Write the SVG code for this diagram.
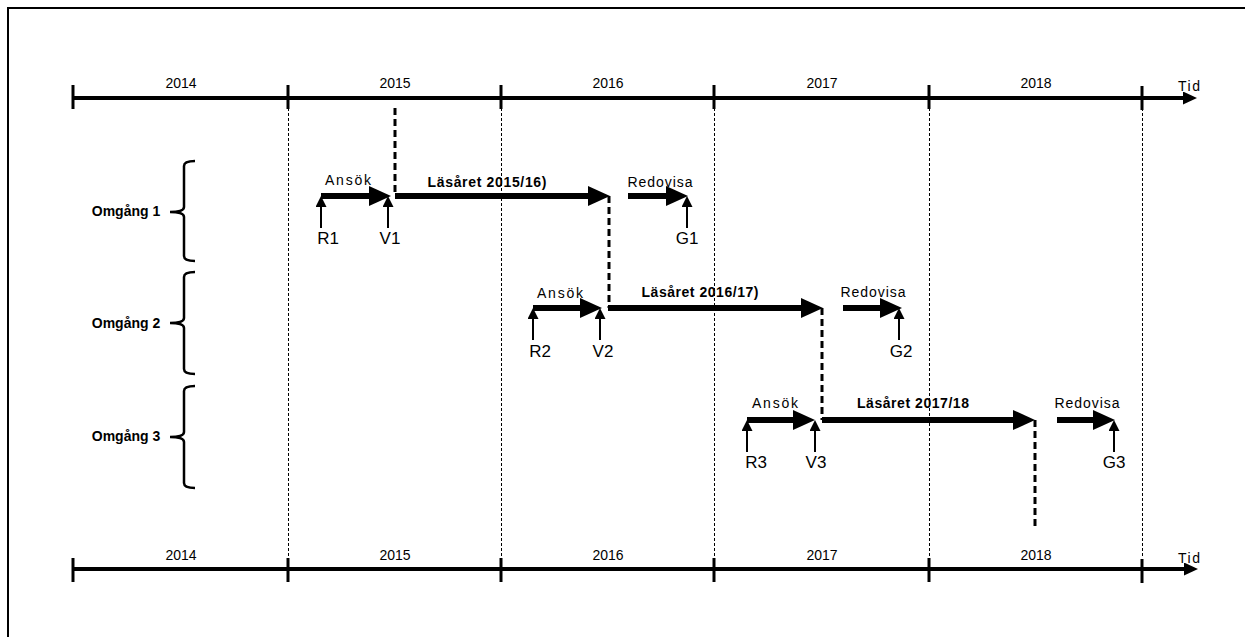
<svg xmlns="http://www.w3.org/2000/svg" width="1245" height="637" viewBox="0 0 1245 637">
<style>
text{font-family:"Liberation Sans",Arial,sans-serif;fill:#000}
.yr{font-size:14px;text-anchor:middle}
.sm{font-size:14px;text-anchor:middle}
.big{font-size:17px;text-anchor:middle}
.bold{font-size:14px;font-weight:bold;text-anchor:middle}
.axis{stroke:#000;stroke-width:4;fill:none}
.tick{stroke:#000;stroke-width:3}
.grid{stroke:#000;stroke-width:1;stroke-dasharray:3,2}
.dash{stroke:#000;stroke-width:3;stroke-dasharray:7,4;fill:none}
.thick{stroke:#000;stroke-width:6;fill:none}
.thin{stroke:#000;stroke-width:2;fill:none}
.brace{stroke:#000;stroke-width:2.5;fill:none}
</style>
<defs>
<marker id="axHead" markerUnits="userSpaceOnUse" markerWidth="14" markerHeight="13" viewBox="0 0 14 13" refX="4" refY="6.5" orient="auto">
<path d="M0,0 L14,6.5 L0,13 z" fill="#000"/>
</marker>
<marker id="bigHead" markerUnits="userSpaceOnUse" markerWidth="22" markerHeight="20" viewBox="0 0 22 20" refX="8" refY="10" orient="auto">
<path d="M0,0 L22,10 L0,20 z" fill="#000"/>
</marker>
<marker id="smHead" markerUnits="userSpaceOnUse" markerWidth="11" markerHeight="11" viewBox="0 0 11 11" refX="4" refY="5.5" orient="auto">
<path d="M0,0 L11,5.5 L0,11 z" fill="#000"/>
</marker>
</defs>
<rect x="8" y="8" width="1260" height="660" fill="#fff" stroke="#000" stroke-width="2"/>

<g id="grid">
<line class="grid" x1="288.5" y1="108" x2="288.5" y2="558"/>
<line class="grid" x1="501.5" y1="108" x2="501.5" y2="558"/>
<line class="grid" x1="714.5" y1="108" x2="714.5" y2="558"/>
<line class="grid" x1="929.5" y1="108" x2="929.5" y2="558"/>
<line class="grid" x1="1142.5" y1="108" x2="1142.5" y2="558"/>
</g>

<g id="axis-top">
<line class="axis" x1="73" y1="98" x2="1187" y2="98" marker-end="url(#axHead)"/>
<line class="tick" x1="73" y1="85" x2="73" y2="109"/>
<line class="tick" x1="288" y1="85" x2="288" y2="109"/>
<line class="tick" x1="501" y1="85" x2="501" y2="109"/>
<line class="tick" x1="714" y1="85" x2="714" y2="109"/>
<line class="tick" x1="929" y1="85" x2="929" y2="109"/>
<line class="tick" x1="1142" y1="86" x2="1142" y2="110"/>
<text class="yr" x="181" y="88">2014</text>
<text class="yr" x="395" y="88">2015</text>
<text class="yr" x="608" y="88">2016</text>
<text class="yr" x="822" y="88">2017</text>
<text class="yr" x="1036" y="88">2018</text>
<text class="sm" x="1189" y="91" textLength="22" lengthAdjust="spacing">Tid</text>
</g>

<g id="axis-bottom">
<line class="axis" x1="73" y1="569" x2="1188" y2="569" marker-end="url(#axHead)"/>
<line class="tick" x1="73" y1="558" x2="73" y2="582"/>
<line class="tick" x1="288" y1="558" x2="288" y2="582"/>
<line class="tick" x1="501" y1="558" x2="501" y2="582"/>
<line class="tick" x1="714" y1="558" x2="714" y2="582"/>
<line class="tick" x1="929" y1="558" x2="929" y2="582"/>
<line class="tick" x1="1142" y1="559" x2="1142" y2="583"/>
<text class="yr" x="181" y="560">2014</text>
<text class="yr" x="395" y="560">2015</text>
<text class="yr" x="608" y="560">2016</text>
<text class="yr" x="822" y="560">2017</text>
<text class="yr" x="1036" y="560">2018</text>
<text class="sm" x="1189" y="563" textLength="22" lengthAdjust="spacing">Tid</text>
</g>

<g id="omgang1">
<path class="brace" d="M195,161 Q184,161 184,166 L184,207 Q184,212 170,212 Q184,212 184,217 L184,256 Q184,261 195,261"/>
<text class="bold" x="126" y="216">Omgång 1</text>
</g>
<g id="omgang2">
<path class="brace" d="M195,272 Q184,272 184,277 L184,318 Q184,323 170,323 Q184,323 184,328 L184,369 Q184,374 195,374"/>
<text class="bold" x="126" y="328">Omgång 2</text>
</g>
<g id="omgang3">
<path class="brace" d="M195,386 Q184,386 184,391 L184,432 Q184,437 170,437 Q184,437 184,442 L184,483 Q184,488 195,488"/>
<text class="bold" x="126" y="441">Omgång 3</text>
</g>

<g id="connectors">
<line class="dash" x1="395" y1="108" x2="395" y2="196"/>
<line class="dash" x1="609" y1="196" x2="609" y2="308"/>
<line class="dash" x1="822" y1="308" x2="822" y2="420"/>
<line class="dash" x1="1035" y1="420" x2="1035" y2="529"/>

<line class="thick" x1="321" y1="196" x2="377" y2="196" marker-end="url(#bigHead)"/>
<line class="thick" x1="395" y1="196" x2="596" y2="196" marker-end="url(#bigHead)"/>
<line class="thick" x1="628" y1="196" x2="674" y2="196" marker-end="url(#bigHead)"/>
<line class="thin" x1="321" y1="228" x2="321" y2="203" marker-end="url(#smHead)"/>
<line class="thin" x1="388" y1="228" x2="388" y2="203" marker-end="url(#smHead)"/>
<line class="thin" x1="687" y1="228" x2="687" y2="203" marker-end="url(#smHead)"/>

<line class="thick" x1="533" y1="308" x2="588" y2="308" marker-end="url(#bigHead)"/>
<line class="thick" x1="608" y1="308" x2="809" y2="308" marker-end="url(#bigHead)"/>
<line class="thick" x1="843" y1="308" x2="888" y2="308" marker-end="url(#bigHead)"/>
<line class="thin" x1="533" y1="340" x2="533" y2="315" marker-end="url(#smHead)"/>
<line class="thin" x1="600" y1="340" x2="600" y2="315" marker-end="url(#smHead)"/>
<line class="thin" x1="899" y1="340" x2="899" y2="315" marker-end="url(#smHead)"/>

<line class="thick" x1="747" y1="420" x2="801" y2="420" marker-end="url(#bigHead)"/>
<line class="thick" x1="822" y1="420" x2="1021" y2="420" marker-end="url(#bigHead)"/>
<line class="thick" x1="1057" y1="420" x2="1101" y2="420" marker-end="url(#bigHead)"/>
<line class="thin" x1="747" y1="452" x2="747" y2="427" marker-end="url(#smHead)"/>
<line class="thin" x1="815" y1="452" x2="815" y2="427" marker-end="url(#smHead)"/>
<line class="thin" x1="1114" y1="452" x2="1114" y2="427" marker-end="url(#smHead)"/>
</g>

<g id="labels-row1">
<text class="sm" x="348" y="185" textLength="46" lengthAdjust="spacing">Ansök</text>
<text class="bold" x="487" y="187" textLength="119" lengthAdjust="spacing">Läsåret 2015/16)</text>
<text class="sm" x="660" y="187" textLength="65" lengthAdjust="spacing">Redovisa</text>
<text class="big" x="328" y="244">R1</text>
<text class="big" x="390" y="244">V1</text>
<text class="big" x="687" y="244">G1</text>
</g>
<g id="labels-row2">
<text class="sm" x="560" y="298" textLength="46" lengthAdjust="spacing">Ansök</text>
<text class="bold" x="700" y="297" textLength="117" lengthAdjust="spacing">Läsåret 2016/17)</text>
<text class="sm" x="873" y="297" textLength="65" lengthAdjust="spacing">Redovisa</text>
<text class="big" x="540" y="357">R2</text>
<text class="big" x="603" y="357">V2</text>
<text class="big" x="901" y="357">G2</text>
</g>
<g id="labels-row3">
<text class="sm" x="775" y="408" textLength="46" lengthAdjust="spacing">Ansök</text>
<text class="bold" x="913" y="408" textLength="112" lengthAdjust="spacing">Läsåret 2017/18</text>
<text class="sm" x="1087" y="408" textLength="65" lengthAdjust="spacing">Redovisa</text>
<text class="big" x="756" y="468">R3</text>
<text class="big" x="816" y="468">V3</text>
<text class="big" x="1114" y="468">G3</text>
</g>
</svg>
